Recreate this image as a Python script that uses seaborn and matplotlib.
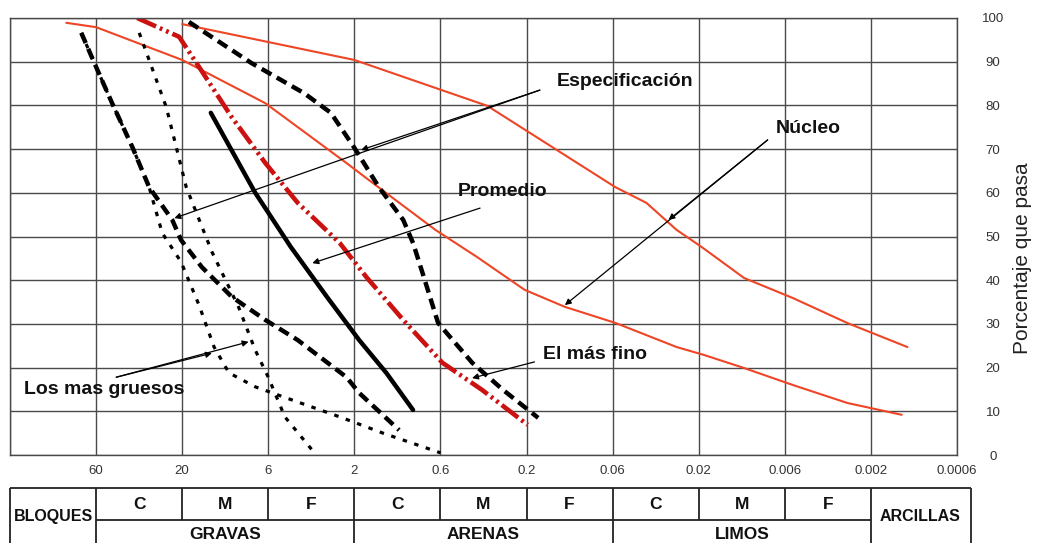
import numpy as np
import pandas as pd
import matplotlib
matplotlib.use("Agg")
import matplotlib.pyplot as plt
import seaborn as sns

# ---------------- data ----------------
# grain size axis (mm), ticks equally spaced on the chart
tick_sizes = [200, 60, 20, 6, 2, 0.6, 0.2, 0.06, 0.02, 0.006, 0.002, 0.0006]
tick_labels = ["", "60", "20", "6", "2", "0.6", "0.2", "0.06", "0.02", "0.006", "0.002", "0.0006"]
pct_ticks = [0, 10, 20, 30, 40, 50, 60, 70, 80, 90, 100]

# Núcleo (upper and lower limits, thin red)
nucleo_sup_d = [20, 2.0, 0.33, 0.058, 0.039, 0.0265, 0.0192, 0.0106, 0.0054, 0.0027, 0.0012]
nucleo_sup_p = [98.6, 90.4, 79.9, 61.3, 57.7, 51.5, 47.6, 40.5, 35.9, 30.2, 24.7]
nucleo_inf_d = [91, 60, 20, 6.25, 2.21, 1.63, 0.643, 0.376, 0.205, 0.117, 0.0577, 0.0265, 0.0186, 0.0106, 0.0054, 0.0027, 0.0013]
nucleo_inf_p = [98.9, 97.9, 90.4, 80.5, 66.8, 62.9, 51.5, 45.3, 37.8, 33.9, 30.2, 24.7, 22.9, 19.9, 16.0, 11.9, 9.2]

# Especificación (black dashed envelope)
espec_der_d = [18.2, 7.6, 3.8, 2.7, 2.0, 1.42, 1.01, 0.88, 0.77, 0.62, 0.40, 0.27, 0.17]
espec_der_p = [99.1, 89.7, 82.8, 78.3, 70.3, 61.3, 53.8, 48.5, 41.6, 30.2, 21.1, 14.9, 8.5]
espec_izq_d = [73.8, 60, 48.9, 37.8, 30.5, 22.7, 20.3, 15.2, 10.0, 6.25, 4.12, 2.21, 1.87, 1.07]
espec_izq_p = [96.6, 88.8, 80.5, 70.5, 61.3, 53.8, 49.2, 43.0, 36.2, 30.9, 26.3, 17.8, 14.2, 5.7]

# Los mas gruesos (black dotted)
gruesos1_d = [73.8, 60, 48.9, 37.8, 30.5, 25.8, 20.3, 15.8, 12.8, 10.4, 7.2, 4.1, 2.4, 1.34, 0.6]
gruesos1_p = [96.6, 88.8, 80.5, 70.5, 61.3, 50.8, 44.2, 34.3, 24.7, 18.8, 15.6, 12.1, 8.7, 5.0, 0.5]
gruesos2_d = [34.6, 24.5, 18.9, 13.2, 9.1, 7.2, 6.0, 4.85, 3.33]
gruesos2_p = [96.6, 79.6, 61.3, 46.5, 33.9, 24.0, 17.8, 8.7, 0.5]

# Promedio (solid black)
promedio_d = [13.4, 7.2, 4.5, 2.84, 1.87, 1.28, 0.88]
promedio_p = [78.3, 60.0, 47.6, 36.2, 26.3, 18.8, 10.3]

# El más fino (red dash-dot-dot)
fino_d = [35.5, 20.8, 15.8, 10.0, 6.25, 4.12, 2.41, 1.69, 1.01, 0.585, 0.353, 0.197]
fino_p = [100, 95.7, 88.8, 77.3, 66.8, 57.7, 48.5, 40.7, 30.9, 21.1, 14.9, 6.9]

# soil classification table
class_edges = [200, 60, 20, 6, 2, 0.6, 0.2, 0.06, 0.02, 0.006, 0.002, 0.0005]
sub_labels = ["C", "M", "F", "C", "M", "F", "C", "M", "F"]
group_labels = ["GRAVAS", "ARENAS", "LIMOS"]

# ---------------- scale (equal spacing between the sieve ticks) ----------------
lt = np.log10(np.array(tick_sizes, dtype=float))[::-1]      # increasing
pos = -np.arange(len(tick_sizes), dtype=float)[::-1]          # increasing with size
lt_ext = np.concatenate([[lt[0] - 100], lt, [lt[-1] + 100]])
pos_ext = np.concatenate([[pos[0] - 200.0], pos, [pos[-1] + 200.0]])


def fwd(d):
    d = np.asarray(d, dtype=float)
    return np.interp(np.log10(np.clip(d, 1e-30, None)), lt_ext, pos_ext)


def inv(p):
    p = np.asarray(p, dtype=float)
    return 10.0 ** np.interp(p, pos_ext, lt_ext)


sns.set_theme(style="white")
plt.rcParams["font.family"] = ["Liberation Sans", "DejaVu Sans"]

W, H = 1037, 543
fig = plt.figure(figsize=(W / 100, H / 100), dpi=100)
ax = fig.add_axes([10 / W, 1 - 455 / H, 947 / W, 437 / H])
ax.set_xscale("function", functions=(fwd, inv))

RED_THIN = "#ee4526"
RED = "#cc1111"
series = [
    (nucleo_sup_d, nucleo_sup_p, RED_THIN, 1.5, "-"),
    (nucleo_inf_d, nucleo_inf_p, RED_THIN, 1.5, "-"),
    (gruesos1_d, gruesos1_p, "black", 2.3, (0, (1.4, 2.4))),
    (gruesos2_d, gruesos2_p, "black", 2.3, (0, (1.4, 2.4))),
    (espec_izq_d, espec_izq_p, "black", 3.2, (0, (2.5, 1.4))),
    (espec_der_d, espec_der_p, "black", 3.2, (0, (2.5, 1.4))),
    (promedio_d, promedio_p, "black", 3.2, "-"),
    (fino_d, fino_p, RED, 3.3, (0, (4.5, 0.9, 0.6, 0.9, 0.6, 0.9))),
]
for d, p, c, lw, ls in series:
    df = pd.DataFrame({"d": d, "p": p})
    sns.lineplot(data=df, x="d", y="p", ax=ax, color=c, lw=lw, linestyle=ls,
                 sort=False, estimator=None, legend=False)

ax.set_xlim(tick_sizes[0], tick_sizes[-1])
ax.set_ylim(0, 100)
GRID = "#4a4a4a"
ax.set_xticks(tick_sizes)
ax.set_xticklabels(tick_labels)
ax.set_yticks(pct_ticks)
ax.grid(True, color=GRID, lw=1.0)
ax.set_axisbelow(True)
for s in ax.spines.values():
    s.set_color(GRID)
    s.set_linewidth(1.0)
ax.yaxis.tick_right()
ax.tick_params(axis="both", length=0)
ax.tick_params(axis="x", pad=7, labelsize=9.5, labelcolor="#333333")
ax.tick_params(axis="y", pad=26, labelsize=9.5, labelcolor="#333333")
for lab in ax.get_yticklabels():
    lab.set_horizontalalignment("center")
ax.set_xlabel("")
ax.set_ylabel("")
fig.text(1022 / W, 1 - 258 / H, "Porcentaje que pasa", rotation=90, fontsize=15,
         color="#222222", ha="center", va="center")

# annotations
arrow = dict(arrowstyle="-|>", color="black", lw=0.9, mutation_scale=9, shrinkA=0, shrinkB=0)
notes = [
    ("Especificación", (0.131, 85.4), (0.166, 83.5), [(1.82, 69.8), (22.1, 54.2)]),
    ("Promedio", (0.48, 60.2), (0.362, 56.5), [(3.42, 43.9)]),
    ("Núcleo", (0.0068, 74.8), (0.00763, 72.1), [(0.0294, 53.8), (0.117, 34.3)]),
    ("El más fino", (0.158, 22.9), (0.179, 21.3), [(0.401, 17.6)]),
    ("Los mas gruesos", (165, 14.9), (46.4, 17.8), [(13.2, 23.3), (7.90, 25.9)]),
]
for text, tpos, start, targets in notes:
    ax.text(tpos[0], tpos[1], text, fontsize=14, fontweight="bold", color="#111111",
            ha="left", va="center")
    for tg in targets:
        ax.annotate("", xy=tg, xytext=start, arrowprops=arrow)

# classification table
tax = fig.add_axes([10 / W, 1 - 552 / H, 947 / W, 64 / H])
tax.set_xscale("function", functions=(fwd, inv))
tax.set_xlim(tick_sizes[0], tick_sizes[-1])
tax.set_ylim(2, 0)
tax.axis("off")
TL = dict(color="#222222", lw=1.3, clip_on=False)
tax.hlines(0, class_edges[0], class_edges[-1], **TL)
tax.hlines(1, class_edges[1], class_edges[-2], **TL)
full = [class_edges[0], class_edges[1], class_edges[4], class_edges[7], class_edges[10], class_edges[11]]
half = [class_edges[2], class_edges[3], class_edges[5], class_edges[6], class_edges[8], class_edges[9]]
tax.vlines(full, 0, 2, **TL)
tax.vlines(half, 0, 1, **TL)
tfont = dict(fontweight="bold", color="#111111", ha="center", va="center", clip_on=False)
for i, lab in enumerate(sub_labels):
    a, b = class_edges[i + 1], class_edges[i + 2]
    tax.text(np.sqrt(a * b), 0.5, lab, fontsize=12.5, **tfont)
for g, lab in enumerate(group_labels):
    a, b = class_edges[1 + 3 * g], class_edges[4 + 3 * g]
    tax.text(np.sqrt(a * b), 1.45, lab, fontsize=12.5, **tfont)
tax.text(np.sqrt(class_edges[0] * class_edges[1]), 0.9, "BLOQUES", fontsize=11.5, **tfont)
tax.text(np.sqrt(class_edges[10] * class_edges[11]), 0.9, "ARCILLAS", fontsize=11.5, **tfont)

fig.savefig("out.png", dpi=100)
